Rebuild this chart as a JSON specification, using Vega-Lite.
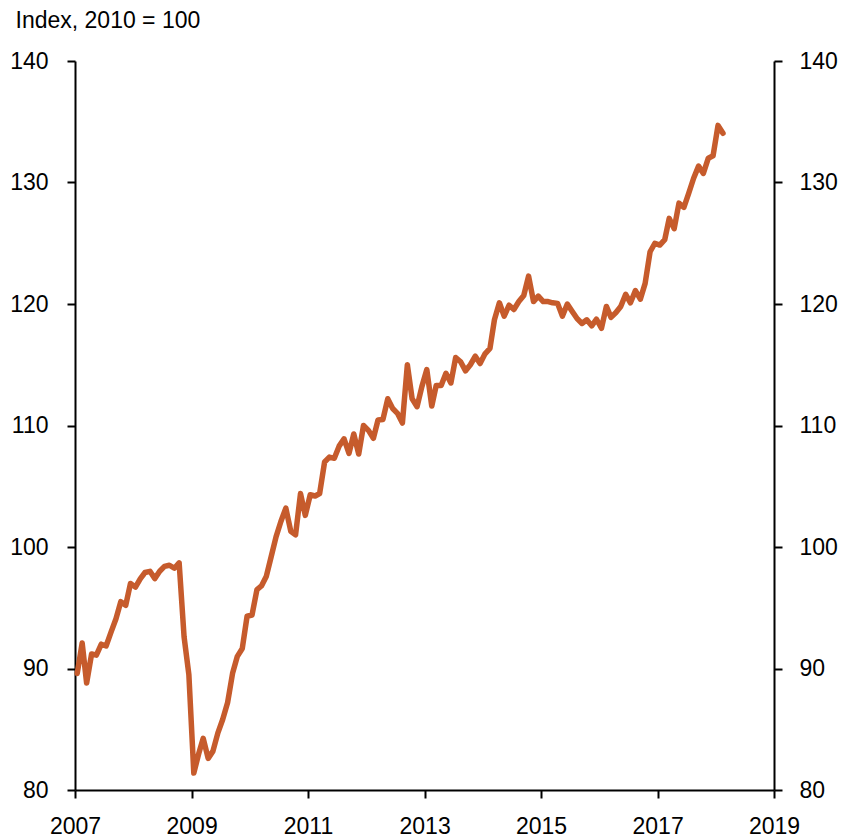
{
  "$schema": "https://vega.github.io/schema/vega-lite/v6.json",
  "width": 699,
  "height": 729,
  "autosize": "none",
  "padding": {"left": 75, "top": 61, "right": 67, "bottom": 48},
  "background": "white",
  "config": {
    "view": {"stroke": null},
    "font": "Liberation Sans",
    "axis": {
      "domainColor": "black",
      "domainWidth": 2,
      "tickColor": "black",
      "tickWidth": 2,
      "tickSize": 8,
      "labelFontSize": 23,
      "labelFont": "Liberation Sans",
      "labelColor": "black",
      "grid": false
    }
  },
  "data": {
    "values": [
      {"date": "2007-01-15", "value": 89.6},
      {"date": "2007-02-15", "value": 92.1},
      {"date": "2007-03-15", "value": 88.8},
      {"date": "2007-04-15", "value": 91.2},
      {"date": "2007-05-15", "value": 91.1},
      {"date": "2007-06-15", "value": 92.0},
      {"date": "2007-07-15", "value": 91.85},
      {"date": "2007-08-15", "value": 93.0},
      {"date": "2007-09-15", "value": 94.1},
      {"date": "2007-10-15", "value": 95.5},
      {"date": "2007-11-15", "value": 95.2},
      {"date": "2007-12-15", "value": 97.0},
      {"date": "2008-01-15", "value": 96.7},
      {"date": "2008-02-15", "value": 97.4},
      {"date": "2008-03-15", "value": 97.9},
      {"date": "2008-04-15", "value": 98.0},
      {"date": "2008-05-15", "value": 97.4},
      {"date": "2008-06-15", "value": 98.0},
      {"date": "2008-07-15", "value": 98.4},
      {"date": "2008-08-15", "value": 98.5},
      {"date": "2008-09-15", "value": 98.25},
      {"date": "2008-10-15", "value": 98.7},
      {"date": "2008-11-15", "value": 92.6},
      {"date": "2008-12-15", "value": 89.5},
      {"date": "2009-01-15", "value": 81.4},
      {"date": "2009-02-15", "value": 83.0},
      {"date": "2009-03-15", "value": 84.25},
      {"date": "2009-04-15", "value": 82.6},
      {"date": "2009-05-15", "value": 83.2},
      {"date": "2009-06-15", "value": 84.7},
      {"date": "2009-07-15", "value": 85.8},
      {"date": "2009-08-15", "value": 87.2},
      {"date": "2009-09-15", "value": 89.6},
      {"date": "2009-10-15", "value": 91.0},
      {"date": "2009-11-15", "value": 91.65},
      {"date": "2009-12-15", "value": 94.3},
      {"date": "2010-01-15", "value": 94.4},
      {"date": "2010-02-15", "value": 96.5},
      {"date": "2010-03-15", "value": 96.8},
      {"date": "2010-04-15", "value": 97.6},
      {"date": "2010-05-15", "value": 99.2},
      {"date": "2010-06-15", "value": 100.85},
      {"date": "2010-07-15", "value": 102.1},
      {"date": "2010-08-15", "value": 103.2},
      {"date": "2010-09-15", "value": 101.3},
      {"date": "2010-10-15", "value": 101.0},
      {"date": "2010-11-15", "value": 104.4},
      {"date": "2010-12-15", "value": 102.6},
      {"date": "2011-01-15", "value": 104.3},
      {"date": "2011-02-15", "value": 104.2},
      {"date": "2011-03-15", "value": 104.4},
      {"date": "2011-04-15", "value": 107.0},
      {"date": "2011-05-15", "value": 107.4},
      {"date": "2011-06-15", "value": 107.3},
      {"date": "2011-07-15", "value": 108.3},
      {"date": "2011-08-15", "value": 108.9},
      {"date": "2011-09-15", "value": 107.7},
      {"date": "2011-10-15", "value": 109.3},
      {"date": "2011-11-15", "value": 107.65},
      {"date": "2011-12-15", "value": 110.0},
      {"date": "2012-01-15", "value": 109.6},
      {"date": "2012-02-15", "value": 108.95},
      {"date": "2012-03-15", "value": 110.45},
      {"date": "2012-04-15", "value": 110.5},
      {"date": "2012-05-15", "value": 112.2},
      {"date": "2012-06-15", "value": 111.4},
      {"date": "2012-07-15", "value": 111.0},
      {"date": "2012-08-15", "value": 110.2},
      {"date": "2012-09-15", "value": 115.0},
      {"date": "2012-10-15", "value": 112.2},
      {"date": "2012-11-15", "value": 111.55},
      {"date": "2012-12-15", "value": 113.2},
      {"date": "2013-01-15", "value": 114.6},
      {"date": "2013-02-15", "value": 111.6},
      {"date": "2013-03-15", "value": 113.3},
      {"date": "2013-04-15", "value": 113.3},
      {"date": "2013-05-15", "value": 114.3},
      {"date": "2013-06-15", "value": 113.5},
      {"date": "2013-07-15", "value": 115.6},
      {"date": "2013-08-15", "value": 115.25},
      {"date": "2013-09-15", "value": 114.5},
      {"date": "2013-10-15", "value": 115.0},
      {"date": "2013-11-15", "value": 115.7},
      {"date": "2013-12-15", "value": 115.1},
      {"date": "2014-01-15", "value": 115.9},
      {"date": "2014-02-15", "value": 116.35},
      {"date": "2014-03-15", "value": 118.7},
      {"date": "2014-04-15", "value": 120.1},
      {"date": "2014-05-15", "value": 119.0},
      {"date": "2014-06-15", "value": 119.9},
      {"date": "2014-07-15", "value": 119.55},
      {"date": "2014-08-15", "value": 120.2},
      {"date": "2014-09-15", "value": 120.7},
      {"date": "2014-10-15", "value": 122.3},
      {"date": "2014-11-15", "value": 120.2},
      {"date": "2014-12-15", "value": 120.65},
      {"date": "2015-01-15", "value": 120.2},
      {"date": "2015-02-15", "value": 120.2},
      {"date": "2015-03-15", "value": 120.1},
      {"date": "2015-04-15", "value": 120.05},
      {"date": "2015-05-15", "value": 119.0},
      {"date": "2015-06-15", "value": 120.0},
      {"date": "2015-07-15", "value": 119.4},
      {"date": "2015-08-15", "value": 118.8},
      {"date": "2015-09-15", "value": 118.4},
      {"date": "2015-10-15", "value": 118.7},
      {"date": "2015-11-15", "value": 118.2},
      {"date": "2015-12-15", "value": 118.75},
      {"date": "2016-01-15", "value": 118.0},
      {"date": "2016-02-15", "value": 119.8},
      {"date": "2016-03-15", "value": 118.9},
      {"date": "2016-04-15", "value": 119.3},
      {"date": "2016-05-15", "value": 119.8},
      {"date": "2016-06-15", "value": 120.8},
      {"date": "2016-07-15", "value": 120.1},
      {"date": "2016-08-15", "value": 121.1},
      {"date": "2016-09-15", "value": 120.4},
      {"date": "2016-10-15", "value": 121.7},
      {"date": "2016-11-15", "value": 124.3},
      {"date": "2016-12-15", "value": 125.0},
      {"date": "2017-01-15", "value": 124.85},
      {"date": "2017-02-15", "value": 125.3},
      {"date": "2017-03-15", "value": 127.05},
      {"date": "2017-04-15", "value": 126.2},
      {"date": "2017-05-15", "value": 128.3},
      {"date": "2017-06-15", "value": 127.95},
      {"date": "2017-07-15", "value": 129.1},
      {"date": "2017-08-15", "value": 130.35},
      {"date": "2017-09-15", "value": 131.35},
      {"date": "2017-10-15", "value": 130.75},
      {"date": "2017-11-15", "value": 132.0},
      {"date": "2017-12-15", "value": 132.2},
      {"date": "2018-01-15", "value": 134.7},
      {"date": "2018-02-15", "value": 134.05}
    ]
  },
  "layer": [
    {
      "mark": {"type": "line", "color": "#C65B2C", "strokeWidth": 5.5, "strokeJoin": "round", "strokeCap": "round"},
      "encoding": {
        "x": {
          "field": "date",
          "type": "temporal",
          "scale": {"type": "utc", "domain": [{"year": 2007, "month": 1, "date": 1, "utc": true}, {"year": 2019, "month": 1, "date": 1, "utc": true}]},
          "axis": {
            "title": null,
            "format": "%Y",
            "formatType": "utc",
            "labelPadding": 17,
            "labelFlush": false,
            "labelOverlap": false,
            "values": [
              {"year": 2007, "month": 1, "date": 1, "utc": true},
              {"year": 2009, "month": 1, "date": 1, "utc": true},
              {"year": 2011, "month": 1, "date": 1, "utc": true},
              {"year": 2013, "month": 1, "date": 1, "utc": true},
              {"year": 2015, "month": 1, "date": 1, "utc": true},
              {"year": 2017, "month": 1, "date": 1, "utc": true},
              {"year": 2019, "month": 1, "date": 1, "utc": true}
            ]
          }
        },
        "y": {
          "field": "value",
          "type": "quantitative",
          "scale": {"domain": [80, 140], "nice": false, "zero": false},
          "axis": {
            "orient": "left",
            "values": [80, 90, 100, 110, 120, 130, 140],
            "labelPadding": 19,
            "labelFlush": false,
            "title": "Index, 2010 = 100",
            "titleAngle": 0,
            "titleX": -60,
            "titleY": -34,
            "titleAlign": "left",
            "titleBaseline": "alphabetic",
            "titleFontSize": 23,
            "titleFontWeight": "normal",
            "titleFont": "Liberation Sans",
            "titleColor": "black"
          }
        }
      }
    },
    {
      "mark": {"type": "line", "opacity": 0},
      "encoding": {
        "x": {"field": "date", "type": "temporal"},
        "y": {
          "field": "value",
          "type": "quantitative",
          "axis": {
            "orient": "right",
            "values": [80, 90, 100, 110, 120, 130, 140],
            "labelPadding": 17,
            "labelFlush": false,
            "title": null
          }
        }
      }
    }
  ],
  "resolve": {"axis": {"y": "independent"}}
}
